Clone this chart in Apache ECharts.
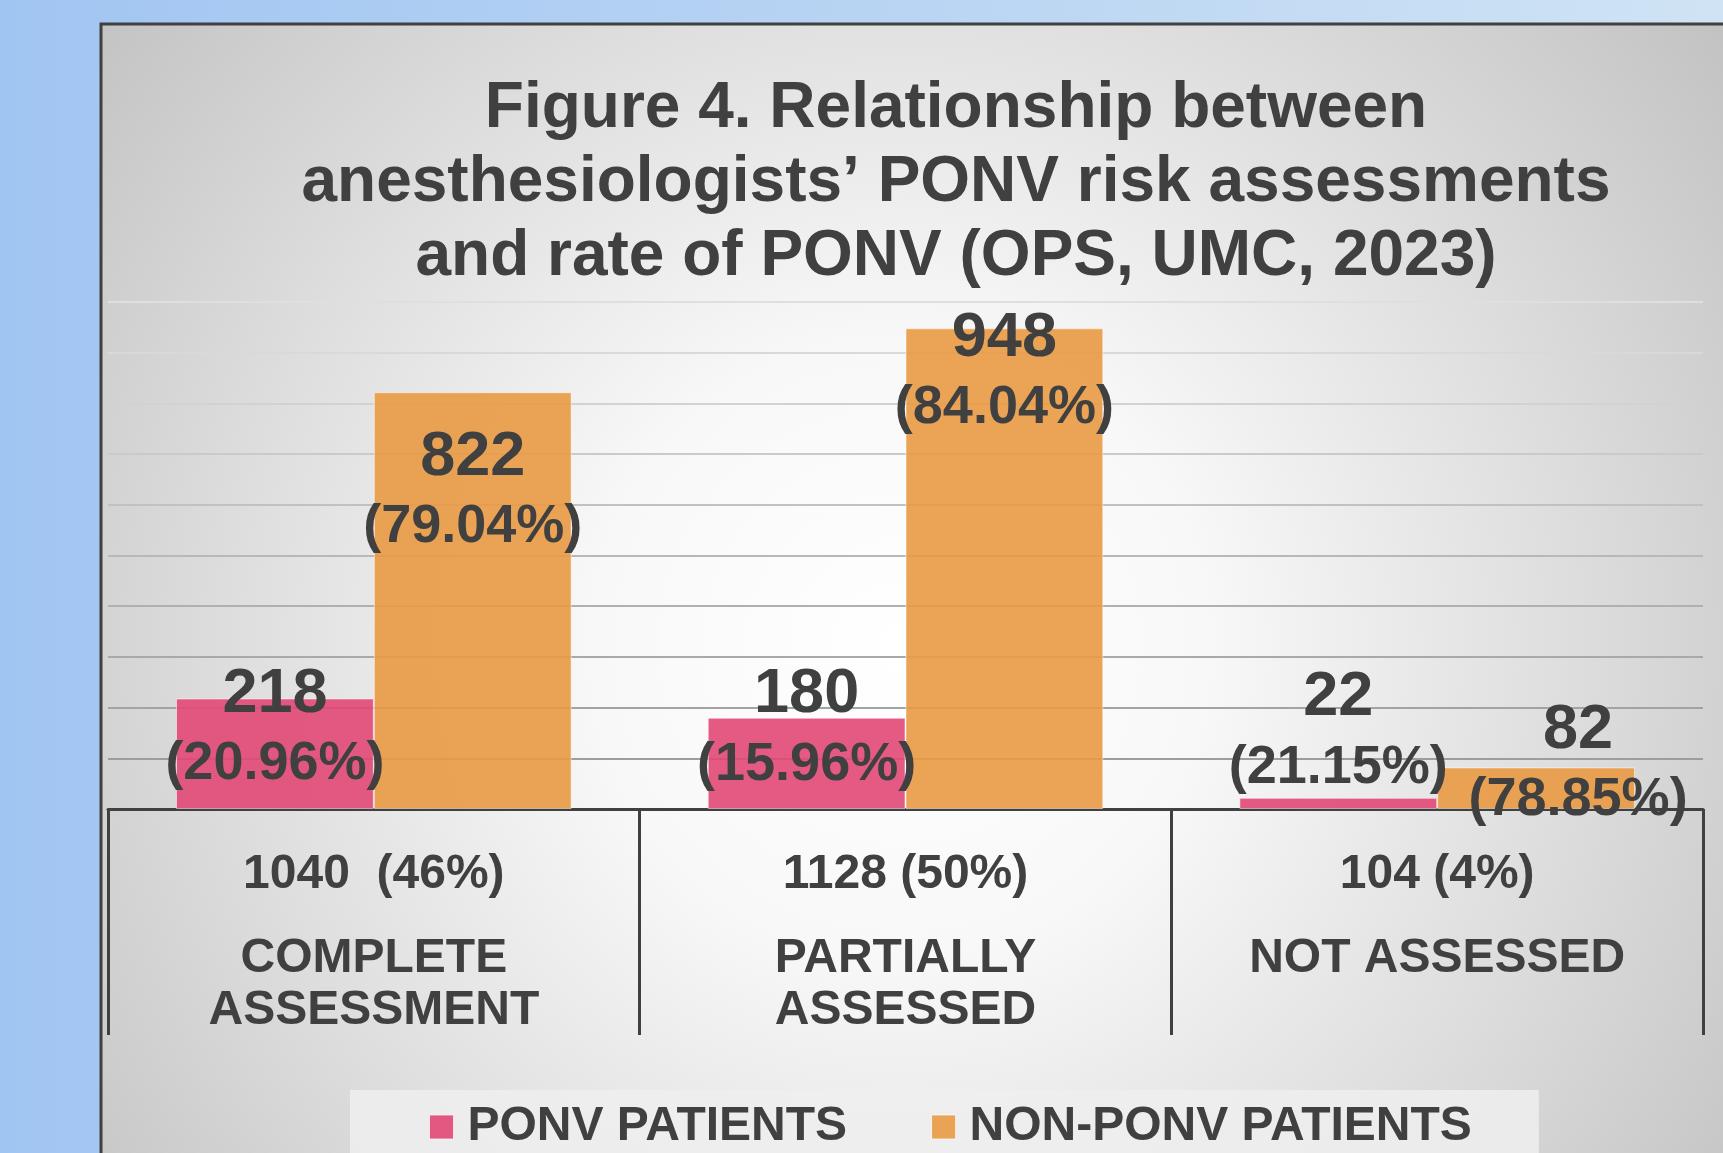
<!DOCTYPE html>
<html>
<head>
<meta charset="utf-8">
<title>Figure 4 - PONV</title>
<script src="https://cdn.jsdelivr.net/npm/echarts@6/dist/echarts.min.js"></script>
<style>
  html, body { margin: 0; padding: 0; }
  #chart { width: 1723px; height: 1153px; }
</style>
</head>
<body>
<div id="chart"></div>
<script>
// data
var categories = ['COMPLETE\nASSESSMENT', 'PARTIALLY\nASSESSED', 'NOT ASSESSED'];
var totalLabels = ['1040  (46%)', '1128 (50%)', '104 (4%)'];
var ponv = [218, 180, 22];
var nonPonv = [822, 948, 82];
var ponvPct = ['20.96%', '15.96%', '21.15%'];
var nonPonvPct = ['79.04%', '84.04%', '78.85%'];
var seriesNames = ['PONV PATIENTS', 'NON-PONV PATIENTS'];

// label nudges (the original labels were moved by hand)
var ponvShift = [[0, 101], [0, 82], [0, 5]];
var nonPonvShift = [[0, 170], [0, 115], [42, 68]];

var font = '"Liberation Sans", Arial, sans-serif';
var ink = '#404040';

var chart = echarts.init(document.getElementById('chart'), null, { renderer: 'canvas' });

function items(vals, shift) {
  return vals.map(function (v, i) {
    return { value: v, label: { offset: shift[i] } };
  });
}

function barLabel(pcts) {
  return {
    show: true,
    position: 'top',
    distance: 0,
    color: ink,
    fontFamily: font,
    fontWeight: 'bold',
    formatter: function (p) {
      return '{v|' + p.value + '}\n{p|(' + pcts[p.dataIndex] + ')}';
    },
    rich: {
      v: { fontSize: 63, fontWeight: 'bold', color: ink, fontFamily: font, lineHeight: 70 },
      p: { fontSize: 54, fontWeight: 'bold', color: ink, fontFamily: font, lineHeight: 70 }
    }
  };
}

var option = {
  animation: false,
  backgroundColor: {
    type: 'linear', x: 0, y: 0, x2: 1, y2: 0,
    colorStops: [
      { offset: 0, color: '#a1c5f2' },
      { offset: 1, color: '#cfe3f4' }
    ]
  },
  graphic: {
    elements: [{
      type: 'rect',
      z: -10,
      silent: true,
      shape: { x: 101, y: 24, width: 1700, height: 1200 },
      style: {
        fill: {
          type: 'radial', x: 0.47, y: 0.52, r: 0.85,
          colorStops: [
            { offset: 0, color: '#ffffff' },
            { offset: 0.3, color: '#f8f8f8' },
            { offset: 0.65, color: '#dedede' },
            { offset: 1, color: '#c3c3c3' }
          ]
        },
        stroke: '#404040',
        lineWidth: 3
      }
    }]
  },
  title: {
    text: 'Figure 4. Relationship between\nanesthesiologists\u2019 PONV risk assessments\nand rate of PONV (OPS, UMC, 2023)',
    left: 956,
    top: 72,
    padding: 0,
    textAlign: 'center',
    textStyle: { fontSize: 64, fontWeight: 'bold', color: ink, fontFamily: font, lineHeight: 74 }
  },
  legend: {
    data: seriesNames,
    left: 350,
    top: 1090,
    icon: 'rect',
    itemWidth: 24,
    itemHeight: 24,
    itemGap: 84,
    padding: [13, 67, 30, 79],
    backgroundColor: 'rgba(238,238,238,0.85)',
    itemStyle: { borderColor: 'rgba(255,255,255,0.7)', borderWidth: 1 },
    textStyle: { fontSize: 48, fontWeight: 'bold', color: ink, fontFamily: font, lineHeight: 48, padding: [0, 0, 0, 9] }
  },
  grid: { left: 108, right: 20, top: 302, bottom: 344, outerBoundsMode: 'none' },
  xAxis: {
    type: 'category',
    data: categories,
    axisLine: { lineStyle: { color: ink, width: 3 } },
    axisTick: { show: true, interval: 0, length: 226, lineStyle: { color: ink, width: 3 } },
    axisLabel: {
      interval: 0,
      margin: 7,
      formatter: function (value, idx) {
        return '{a|' + totalLabels[idx] + '}\n' + value.split('\n').map(function (s) {
          return '{b|' + s + '}';
        }).join('\n');
      },
      rich: {
        a: { fontSize: 48, fontWeight: 'bold', color: ink, fontFamily: font, lineHeight: 117 },
        b: { fontSize: 48, fontWeight: 'bold', color: ink, fontFamily: font, lineHeight: 52 }
      }
    }
  },
  yAxis: {
    type: 'value',
    min: 0,
    max: 1000,
    interval: 100,
    axisLabel: { show: false },
    axisLine: { show: false },
    axisTick: { show: false },
    splitLine: {
      lineStyle: {
        width: 2,
        color: ['#999999', '#9d9d9d', '#a3a3a3', '#a9a9a9', '#b0b0b0', '#b8b8b8', '#c1c1c1', '#cacaca', '#d2d2d2', '#d9d9d9', '#dfdfdf']
      }
    }
  },
  series: [
    {
      name: seriesNames[0],
      type: 'bar',
      barGap: '0%',
      barCategoryGap: '25.6%',
      itemStyle: { color: 'rgba(226,72,118,0.9)', borderColor: 'rgba(255,255,255,0.5)', borderWidth: 1 },
      label: barLabel(ponvPct),
      data: items(ponv, ponvShift)
    },
    {
      name: seriesNames[1],
      type: 'bar',
      itemStyle: { color: 'rgba(233,153,67,0.9)', borderColor: 'rgba(255,255,255,0.5)', borderWidth: 1 },
      label: barLabel(nonPonvPct),
      data: items(nonPonv, nonPonvShift)
    }
  ]
};

chart.setOption(option);
</script>
</body>
</html>
